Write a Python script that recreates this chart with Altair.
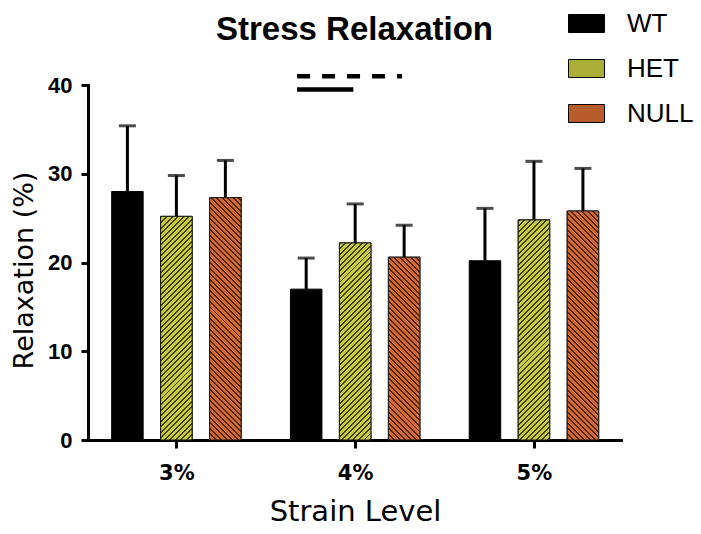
import math
import altair as alt
import pandas as pd

# ---------------- data ----------------
strains = ["3%", "4%", "5%"]
groups = ["WT", "HET", "NULL"]
wt_mean = [28.0, 17.0, 20.2]
wt_sd = [7.4, 3.5, 5.9]
het_mean = [25.2, 22.2, 24.8]
het_sd = [4.6, 4.4, 6.6]
null_mean = [27.3, 20.6, 25.8]
null_sd = [4.2, 3.6, 4.8]

# significance bars above the 4% group (x in strain-index units, y in %)
sig_x1 = [0.675, 0.675]
sig_x2 = [0.99, 1.262]
sig_y = [39.5, 41.0]
sig_style = ["solid", "dashed"]

# ---------------- layout / style ----------------
W, H = 533, 355
Y_MAX = 40
X_DOMAIN = [-0.4665, 2.459]
OFFSET = 0.274      # spacing between bars of a group, in strain units
BAR_W = 31.5
PERIOD = 3.9        # hatch period (px, perpendicular)
DARK = 0.36         # fraction of period that is dark

light = {"HET": "#c9cc3e", "NULL": "#d36a2e"}
dark = {"HET": "#3f3e14", "NULL": "#52230f"}
legend_colors = ["#000000", "#aaad38", "#b65d2b"]

means = {"WT": wt_mean, "HET": het_mean, "NULL": null_mean}
sds = {"WT": wt_sd, "HET": het_sd, "NULL": null_sd}

rows = []
for si, s in enumerate(strains):
    for gi, g in enumerate(groups):
        m = means[g][si]
        rows.append({"strain": s, "group": g, "pos": si + (gi - 1) * OFFSET,
                     "mean": m, "upper": m + sds[g][si]})
df = pd.DataFrame(rows)

sig_df = pd.DataFrame({"sx1": sig_x1, "sx2": sig_x2, "sy": sig_y, "style": sig_style})


def hatch(value, rising, g):
    h = value * H / Y_MAX
    w = BAR_W
    c = (1 / h + 1 / w) / (1 / h ** 2 + 1 / w ** 2)
    if rising:
        x1, y1, x2, y2 = 0, 0, c / h, c / w
    else:
        x1, y1, x2, y2 = 0, 1, c / h, 1 - c / w
    n = (w + h) / math.sqrt(2) / PERIOD
    stops = []
    k = 0
    while k / n < 1:
        t0 = k / n
        t1 = min((k + DARK) / n, 1)
        t2 = min((k + 1) / n, 1)
        stops += [(t0, dark[g]), (t1, dark[g]), (t1, light[g]), (t2, light[g])]
        k += 1
    return {"gradient": "linear", "x1": x1, "y1": y1, "x2": x2, "y2": y2,
            "stops": [{"offset": round(o, 5), "color": col} for o, col in stops]}


label_expr = "[" + ",".join("'%s'" % s for s in strains) + "][datum.value]"

x_enc = alt.X("pos:Q",
              scale=alt.Scale(domain=X_DOMAIN, nice=False, zero=False),
              axis=alt.Axis(values=[0, 1, 2], labelExpr=label_expr, title="Strain Level",
                            grid=False, tickSize=8, tickWidth=3, tickColor="black",
                            domainWidth=3, domainColor="black", domainCap="square",
                            labelFont="DejaVu Sans", labelFontSize=21, labelFontWeight="bold",
                            labelColor="black", labelPadding=14,
                            titleFont="DejaVu Sans", titleFontSize=29, titleFontWeight="normal",
                            titleColor="black", titleX=267, titleY=80,
                            titleBaseline="alphabetic", titleAlign="center"))
y_enc = alt.Y("mean:Q", stack=None,
              scale=alt.Scale(domain=[0, Y_MAX], nice=False),
              axis=alt.Axis(values=[0, 10, 20, 30, 40], title="Relaxation (%)",
                            grid=False, tickSize=7, tickWidth=3, tickColor="black",
                            domainWidth=3, domainColor="black", domainCap="square",
                            labelFont="Liberation Sans", labelFontSize=22, labelFontWeight="bold",
                            labelColor="black", labelPadding=9,
                            titleFont="DejaVu Sans", titleFontSize=27, titleFontWeight="normal",
                            titleColor="black", titleX=-56, titleY=185, titleAngle=270,
                            titleBaseline="alphabetic", titleAlign="center"))

base = alt.Chart(df)

err = base.mark_rule(color="black", strokeWidth=3).encode(
    x="pos:Q", y=alt.Y("mean:Q", stack=None), y2="upper:Q")

caps = base.mark_tick(orient="horizontal", size=17, thickness=3, color="black").encode(
    x="pos:Q", y=alt.Y("upper:Q"))

bars = base.mark_bar(orient="vertical", size=BAR_W, stroke="black", strokeWidth=1).encode(
    x=x_enc, y=y_enc,
    color=alt.Color("group:N", scale=alt.Scale(domain=groups, range=legend_colors),
                    legend=alt.Legend(orient="none", legendX=480, legendY=-80, title=None,
                                      padding=0, symbolType="M-1,-0.5H1V0.5H-1Z",
                                      symbolSize=1296, symbolStrokeColor="black",
                                      symbolStrokeWidth=1, symbolOpacity=1,
                                      labelFont="Liberation Sans", labelFontSize=26,
                                      labelColor="black", labelOffset=22, rowPadding=13)))

hatched = []
for si, s in enumerate(strains):
    for g, rising in (("HET", True), ("NULL", False)):
        hatched.append(
            base.transform_filter((alt.datum.strain == s) & (alt.datum.group == g))
            .mark_bar(orient="vertical", size=BAR_W, fill=hatch(means[g][si], rising, g),
                      stroke="#1a1a1a", strokeWidth=1)
            .encode(x="pos:Q", y=alt.Y("mean:Q", stack=None)))

sig_base = alt.Chart(sig_df)
sig_solid = sig_base.transform_filter(alt.datum.style == "solid").mark_rule(
    color="black", strokeWidth=4.5, strokeCap="butt").encode(
    x="sx1:Q", x2="sx2:Q", y="sy:Q")
sig_dash = sig_base.transform_filter(alt.datum.style == "dashed").mark_rule(
    color="black", strokeWidth=4.5, strokeCap="butt", strokeDash=[13, 12]).encode(
    x="sx1:Q", x2="sx2:Q", y="sy:Q")

chart = alt.layer(err, bars, *hatched, caps, sig_solid, sig_dash).properties(
    width=W, height=H,
    title=alt.TitleParams("Stress Relaxation", font="Liberation Sans", fontSize=33,
                          fontWeight="bold", color="black", anchor="middle",
                          baseline="alphabetic", offset=-68),
    padding={"left": 80, "top": 77, "right": 72, "bottom": 86},
    autosize=alt.AutoSizeParams(type="none"),
).configure_view(stroke=None)

chart.save("out.html", embed_options={"renderer": "svg", "actions": False})
